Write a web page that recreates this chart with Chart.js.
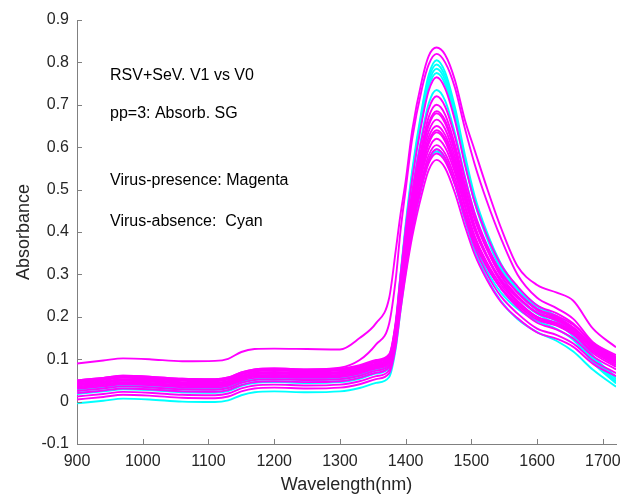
<!DOCTYPE html>
<html>
<head>
<meta charset="utf-8">
<script src="https://cdn.jsdelivr.net/npm/chart.js@4.4.1/dist/chart.umd.min.js"></script>
<style>
  html, body { margin: 0; padding: 0; background: #fff; }
</style>
</head>
<body>
<canvas id="chart" width="623" height="497"></canvas>
<script>
// ===== DATA =====
const wavelengths = [900, 940, 970, 1010, 1060, 1110, 1130, 1150, 1170, 1200, 1250, 1300, 1330, 1355, 1375,
  1385, 1392, 1400, 1410, 1425, 1435, 1447, 1460, 1475, 1490, 1505, 1523, 1545, 1570, 1600, 1630, 1655, 1685, 1720];

const xTickValues = [900, 1000, 1100, 1200, 1300, 1400, 1500, 1600, 1700];
const yTickValues = [-0.1, 0, 0.1, 0.2, 0.3, 0.4, 0.5, 0.6, 0.7, 0.8, 0.9];

// virus-presence spectra (magenta)
const magenta01 = [0.090, 0.097, 0.102, 0.100, 0.095, 0.096, 0.101, 0.117, 0.124, 0.125, 0.124, 0.123, 0.150, 0.185, 0.245,
  0.357, 0.440, 0.520, 0.640, 0.760, 0.815, 0.835, 0.818, 0.758, 0.665, 0.593, 0.507, 0.410, 0.320, 0.275, 0.257, 0.238, 0.172, 0.128];
const magenta02 = [0.050, 0.056, 0.061, 0.059, 0.054, 0.053, 0.057, 0.069, 0.076, 0.078, 0.076, 0.080, 0.098, 0.135, 0.185,
  0.290, 0.400, 0.500, 0.620, 0.740, 0.795, 0.820, 0.800, 0.740, 0.645, 0.560, 0.475, 0.385, 0.300, 0.245, 0.220, 0.195, 0.140, 0.110];
const magenta03 = [0.045, 0.051, 0.056, 0.054, 0.049, 0.048, 0.052, 0.064, 0.071, 0.073, 0.071, 0.073, 0.081, 0.093, 0.107,
  0.190, 0.296, 0.408, 0.526, 0.663, 0.733, 0.765, 0.739, 0.663, 0.560, 0.471, 0.394, 0.323, 0.272, 0.227, 0.208, 0.184, 0.137, 0.103];
const magenta04 = [0.040, 0.046, 0.051, 0.049, 0.044, 0.043, 0.047, 0.059, 0.066, 0.068, 0.066, 0.068, 0.076, 0.088, 0.102,
  0.180, 0.280, 0.385, 0.496, 0.624, 0.690, 0.720, 0.696, 0.624, 0.528, 0.444, 0.372, 0.306, 0.258, 0.216, 0.198, 0.175, 0.130, 0.097];
const magenta05 = [0.035, 0.041, 0.046, 0.044, 0.039, 0.038, 0.042, 0.054, 0.061, 0.063, 0.061, 0.063, 0.071, 0.083, 0.097,
  0.173, 0.271, 0.373, 0.482, 0.606, 0.671, 0.700, 0.677, 0.606, 0.513, 0.431, 0.361, 0.296, 0.250, 0.209, 0.191, 0.169, 0.124, 0.092];
const magenta06 = [0.050, 0.056, 0.061, 0.059, 0.054, 0.053, 0.057, 0.069, 0.076, 0.078, 0.076, 0.078, 0.086, 0.098, 0.112,
  0.185, 0.277, 0.375, 0.478, 0.596, 0.657, 0.685, 0.663, 0.596, 0.507, 0.430, 0.363, 0.302, 0.258, 0.219, 0.202, 0.181, 0.138, 0.106];
const magenta07 = [0.030, 0.036, 0.041, 0.039, 0.034, 0.033, 0.037, 0.049, 0.056, 0.058, 0.056, 0.058, 0.066, 0.078, 0.092,
  0.165, 0.257, 0.355, 0.458, 0.576, 0.637, 0.665, 0.643, 0.576, 0.487, 0.410, 0.343, 0.282, 0.238, 0.199, 0.182, 0.161, 0.118, 0.086];
const magenta08 = [0.042, 0.048, 0.053, 0.051, 0.046, 0.045, 0.049, 0.061, 0.068, 0.070, 0.068, 0.070, 0.078, 0.090, 0.104,
  0.176, 0.264, 0.356, 0.454, 0.566, 0.624, 0.650, 0.629, 0.566, 0.482, 0.409, 0.346, 0.288, 0.246, 0.209, 0.193, 0.173, 0.131, 0.101];
const magenta09 = [0.020, 0.026, 0.031, 0.029, 0.024, 0.023, 0.027, 0.039, 0.046, 0.048, 0.046, 0.048, 0.056, 0.068, 0.082,
  0.152, 0.242, 0.336, 0.435, 0.549, 0.608, 0.635, 0.614, 0.549, 0.464, 0.389, 0.325, 0.266, 0.223, 0.186, 0.170, 0.149, 0.107, 0.076];
const magenta10 = [0.038, 0.044, 0.049, 0.047, 0.042, 0.041, 0.045, 0.057, 0.064, 0.066, 0.064, 0.066, 0.074, 0.086, 0.100,
  0.168, 0.252, 0.340, 0.433, 0.540, 0.595, 0.620, 0.600, 0.540, 0.460, 0.390, 0.330, 0.275, 0.235, 0.200, 0.185, 0.165, 0.125, 0.095];
const magenta11 = [0.033, 0.039, 0.044, 0.042, 0.037, 0.036, 0.040, 0.052, 0.059, 0.061, 0.059, 0.061, 0.069, 0.081, 0.095,
  0.162, 0.244, 0.330, 0.422, 0.527, 0.581, 0.605, 0.585, 0.527, 0.448, 0.380, 0.321, 0.267, 0.228, 0.193, 0.179, 0.159, 0.120, 0.090];
const magenta12 = [0.012, 0.018, 0.023, 0.021, 0.016, 0.015, 0.019, 0.031, 0.038, 0.040, 0.038, 0.040, 0.048, 0.060, 0.074,
  0.140, 0.225, 0.313, 0.407, 0.515, 0.570, 0.595, 0.575, 0.515, 0.434, 0.364, 0.303, 0.248, 0.208, 0.172, 0.157, 0.137, 0.097, 0.067];
const magenta13 = [0.047, 0.053, 0.058, 0.056, 0.051, 0.050, 0.054, 0.066, 0.073, 0.075, 0.073, 0.075, 0.083, 0.095, 0.109,
  0.168, 0.246, 0.327, 0.413, 0.511, 0.562, 0.585, 0.567, 0.511, 0.438, 0.373, 0.318, 0.268, 0.231, 0.199, 0.185, 0.166, 0.128, 0.099];
const magenta14 = [0.005, 0.011, 0.016, 0.014, 0.009, 0.008, 0.012, 0.024, 0.031, 0.033, 0.031, 0.033, 0.041, 0.053, 0.067,
  0.131, 0.213, 0.298, 0.389, 0.492, 0.546, 0.570, 0.551, 0.492, 0.415, 0.347, 0.289, 0.235, 0.197, 0.163, 0.148, 0.129, 0.089, 0.060];
const magenta15 = [0.025, 0.031, 0.036, 0.034, 0.029, 0.028, 0.032, 0.044, 0.051, 0.053, 0.051, 0.053, 0.061, 0.073, 0.087,
  0.162, 0.258, 0.359, 0.465, 0.588, 0.651, 0.680, 0.657, 0.588, 0.496, 0.416, 0.347, 0.283, 0.237, 0.197, 0.180, 0.158, 0.114, 0.082];
const magenta16 = [0.048, 0.054, 0.059, 0.057, 0.052, 0.051, 0.055, 0.067, 0.074, 0.076, 0.074, 0.076, 0.084, 0.096, 0.110,
  0.177, 0.263, 0.353, 0.449, 0.558, 0.614, 0.640, 0.620, 0.558, 0.476, 0.404, 0.343, 0.287, 0.246, 0.210, 0.195, 0.174, 0.134, 0.103];

// virus-absence spectra (cyan)
const cyan01 = [0.030, 0.036, 0.041, 0.039, 0.034, 0.033, 0.037, 0.049, 0.056, 0.058, 0.056, 0.058, 0.066, 0.078, 0.092,
  0.181, 0.297, 0.418, 0.546, 0.694, 0.770, 0.805, 0.777, 0.694, 0.583, 0.485, 0.402, 0.325, 0.270, 0.226, 0.200, 0.170, 0.105, 0.054];
const cyan02 = [0.025, 0.031, 0.036, 0.034, 0.029, 0.028, 0.032, 0.044, 0.051, 0.053, 0.051, 0.053, 0.061, 0.073, 0.087,
  0.176, 0.290, 0.411, 0.538, 0.685, 0.761, 0.795, 0.767, 0.685, 0.574, 0.478, 0.395, 0.319, 0.264, 0.220, 0.195, 0.164, 0.100, 0.049];
const cyan03 = [0.020, 0.026, 0.031, 0.029, 0.024, 0.023, 0.027, 0.039, 0.046, 0.048, 0.046, 0.048, 0.056, 0.068, 0.082,
  0.170, 0.284, 0.403, 0.530, 0.675, 0.751, 0.785, 0.758, 0.675, 0.566, 0.470, 0.388, 0.312, 0.258, 0.215, 0.189, 0.159, 0.094, 0.044];
const cyan04 = [0.035, 0.041, 0.046, 0.044, 0.039, 0.038, 0.042, 0.054, 0.061, 0.063, 0.061, 0.063, 0.071, 0.083, 0.097,
  0.182, 0.292, 0.407, 0.529, 0.669, 0.742, 0.775, 0.749, 0.669, 0.564, 0.471, 0.392, 0.320, 0.267, 0.226, 0.201, 0.171, 0.108, 0.058];
const cyan05 = [0.018, 0.024, 0.029, 0.027, 0.022, 0.021, 0.025, 0.037, 0.044, 0.046, 0.044, 0.046, 0.054, 0.066, 0.080,
  0.164, 0.270, 0.381, 0.498, 0.633, 0.703, 0.735, 0.710, 0.633, 0.532, 0.443, 0.367, 0.297, 0.246, 0.207, 0.183, 0.154, 0.092, 0.043];
const cyan06 = [-0.004, 0.002, 0.007, 0.005, 0.000, -0.001, 0.003, 0.015, 0.022, 0.024, 0.022, 0.024, 0.032, 0.044, 0.058,
  0.126, 0.213, 0.305, 0.401, 0.512, 0.569, 0.595, 0.574, 0.512, 0.429, 0.356, 0.294, 0.237, 0.195, 0.164, 0.143, 0.118, 0.075, 0.035];
const cyan07 = [0.028, 0.034, 0.039, 0.037, 0.032, 0.031, 0.035, 0.047, 0.054, 0.056, 0.054, 0.056, 0.064, 0.076, 0.090,
  0.154, 0.235, 0.320, 0.410, 0.513, 0.566, 0.590, 0.571, 0.513, 0.436, 0.368, 0.310, 0.257, 0.219, 0.190, 0.171, 0.146, 0.092, 0.048];

const magentaSeries = [magenta01, magenta02, magenta03, magenta04, magenta05, magenta06, magenta07, magenta08,
  magenta09, magenta10, magenta11, magenta12, magenta13, magenta14, magenta15, magenta16];
const cyanSeries = [cyan01, cyan02, cyan03, cyan04, cyan05, cyan06, cyan07];

const notes = ['RSV+SeV. V1 vs V0', 'pp=3: Absorb. SG', 'Virus-presence: Magenta', 'Virus-absence:  Cyan'];

// ===== STYLE =====
const FONT = "'Liberation Sans', Arial, Helvetica, sans-serif";
const AXIS_GRAY = '#808080';
const TEXT_GRAY = '#262626';

function toPoints(values) {
  return values.map((v, i) => ({ x: wavelengths[i], y: v }));
}

function spectrum(values, color) {
  return {
    data: toPoints(values),
    borderColor: color,
    borderWidth: 1.9,
    pointRadius: 0,
    fill: false,
    cubicInterpolationMode: 'monotone',
  };
}

// magenta first in the list so it paints over cyan
const datasets = [
  ...magentaSeries.map(s => spectrum(s, '#ff00ff')),
  ...cyanSeries.map(s => spectrum(s, '#00ffff')),
];

// MATLAB-style ticks pointing into the plot
const innerTicks = {
  id: 'innerTicks',
  afterDraw(chart) {
    const { ctx, chartArea, scales } = chart;
    ctx.save();
    ctx.strokeStyle = AXIS_GRAY;
    ctx.lineWidth = 1;
    ctx.beginPath();
    scales.x.ticks.forEach(t => {
      const px = Math.round(scales.x.getPixelForValue(t.value)) + 0.5;
      ctx.moveTo(px, chartArea.bottom);
      ctx.lineTo(px, chartArea.bottom - 5);
    });
    scales.y.ticks.forEach(t => {
      const py = Math.round(scales.y.getPixelForValue(t.value)) + 0.5;
      ctx.moveTo(chartArea.left, py);
      ctx.lineTo(chartArea.left + 5, py);
    });
    ctx.stroke();
    ctx.restore();
  },
};

// annotation text in the upper left of the axes
const noteText = {
  id: 'noteText',
  afterDraw(chart) {
    const { ctx, chartArea } = chart;
    const baselines = [60, 98, 165, 206];
    ctx.save();
    ctx.fillStyle = '#000';
    ctx.font = `16px ${FONT}`;
    ctx.textAlign = 'left';
    ctx.textBaseline = 'alphabetic';
    notes.forEach((txt, i) => ctx.fillText(txt, chartArea.left + 33, chartArea.top + baselines[i]));
    ctx.restore();
  },
};

new Chart(document.getElementById('chart'), {
  type: 'line',
  data: { datasets },
  options: {
    responsive: false,
    animation: false,
    devicePixelRatio: 1,
    layout: { padding: { top: 20, right: 7, left: 0, bottom: 0 } },
    plugins: { legend: { display: false }, tooltip: { enabled: false } },
    scales: {
      x: {
        type: 'linear',
        min: 900,
        max: 1720,
        afterBuildTicks: s => { s.ticks = xTickValues.map(v => ({ value: v })); },
        afterFit: s => { s.height = 53; s.paddingLeft = 0; s.paddingRight = 0; },
        grid: { display: false, drawTicks: false },
        border: { display: true, color: AXIS_GRAY, width: 1 },
        ticks: {
          color: TEXT_GRAY,
          padding: 8,
          maxRotation: 0,
          font: { family: FONT, size: 16 },
          callback: v => String(v),
        },
        title: { display: true, text: 'Wavelength(nm)', color: TEXT_GRAY, padding: { top: 0, bottom: 1 }, font: { family: FONT, size: 18 } },
      },
      y: {
        type: 'linear',
        min: -0.1,
        max: 0.9,
        afterBuildTicks: s => { s.ticks = yTickValues.map(v => ({ value: v })); },
        afterFit: s => { s.width = 77; s.paddingTop = 0; s.paddingBottom = 0; },
        grid: { display: false, drawTicks: false },
        border: { display: true, color: AXIS_GRAY, width: 1 },
        ticks: {
          color: TEXT_GRAY,
          padding: 8,
          font: { family: FONT, size: 16 },
          callback: v => (Math.abs(v) < 1e-9 ? '0' : v.toFixed(1)),
        },
        title: { display: true, text: 'Absorbance', color: TEXT_GRAY, padding: { top: 13, bottom: 0 }, font: { family: FONT, size: 18 } },
      },
    },
  },
  plugins: [innerTicks, noteText],
});
</script>
</body>
</html>
